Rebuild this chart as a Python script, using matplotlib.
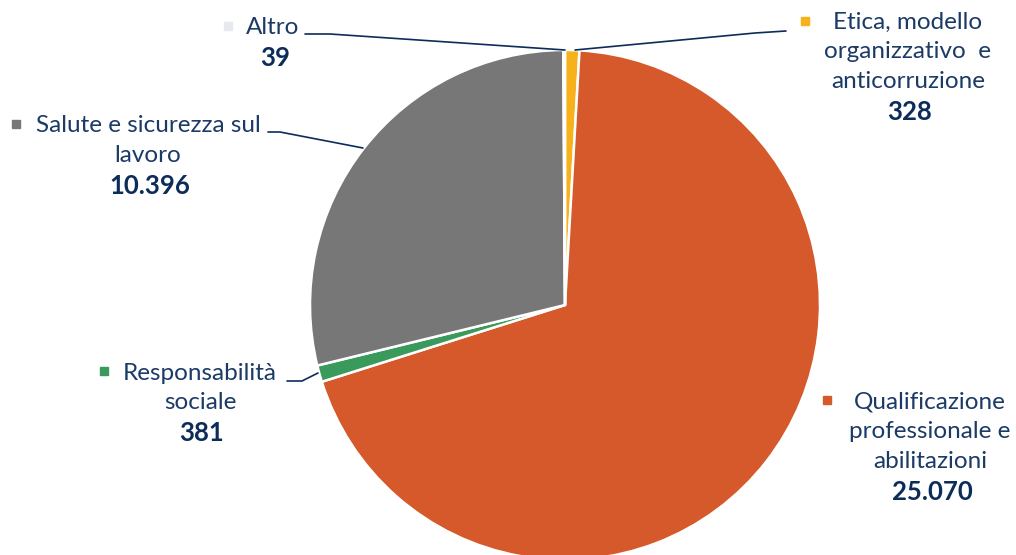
import matplotlib.pyplot as plt

# Formazione: ore per area tematica
categories = ["Etica, modello\norganizzativo  e\nanticorruzione",
              "Qualificazione\nprofessionale e\nabilitazioni",
              "Responsabilità\nsociale",
              "Salute e sicurezza sul\nlavoro",
              "Altro"]
values = [328, 25070, 381, 10396, 39]
colors = ["#F7B21B", "#D5592A", "#3A9A5B", "#777777", "#E6E9EE"]

# posizione etichette (pixel, origine in alto a sinistra) e marcatore
label_pos = [(908, 22), (930, 402), (200, 373), (148, 126), (273, 27)]
marker_pos = [(805, 21), (827, 400), (104, 371), (16, 124), (228, 26)]
leaders = [
    [(575, 50), (755, 33), (786, 31)],
    None,
    [(287, 381), (302, 381), (318, 373)],
    [(268, 132), (280, 132), (363, 148)],
    [(305, 34), (330, 34), (565, 50)],
]

W, H = 1016, 555
NAVY = "#1B3A66"
NAVY_DARK = "#0C2C5A"

fig = plt.figure(figsize=(W / 100, H / 100), dpi=100)
ax = fig.add_axes([0, 0, 1, 1])
ax.set_xlim(0, W)
ax.set_ylim(0, H)
ax.set_aspect("equal")
ax.axis("off")

ax.pie(values, colors=colors, startangle=90, counterclock=False,
       center=(565, H - 305), radius=255,
       wedgeprops=dict(edgecolor="white", linewidth=1.8))
ax.set_xlim(0, W)
ax.set_ylim(0, H)

line_h = 29.5
for cat, val, col, (lx, ly), (mx, my), lead in zip(
        categories, values, colors, label_pos, marker_pos, leaders):
    lines = cat.split("\n")
    for i, t in enumerate(lines):
        ax.text(lx, H - (ly + i * line_h), t, ha="center", va="center",
                fontsize=17.5, family="Lato", color=NAVY)
    num = f"{val:,}".replace(",", ".")
    ax.text(lx + 2, H - (ly + len(lines) * line_h + 1), num, ha="center",
            va="center", fontsize=18.5, family="Lato", weight="bold",
            color=NAVY_DARK)
    ax.plot(mx, H - my, marker="s", markersize=5.5, color=col, linestyle="none")
    if lead is not None:
        ax.plot([p[0] for p in lead], [H - p[1] for p in lead],
                color=NAVY_DARK, linewidth=1.2, solid_capstyle="round")

fig.savefig("out.png", dpi=100, facecolor="white")
